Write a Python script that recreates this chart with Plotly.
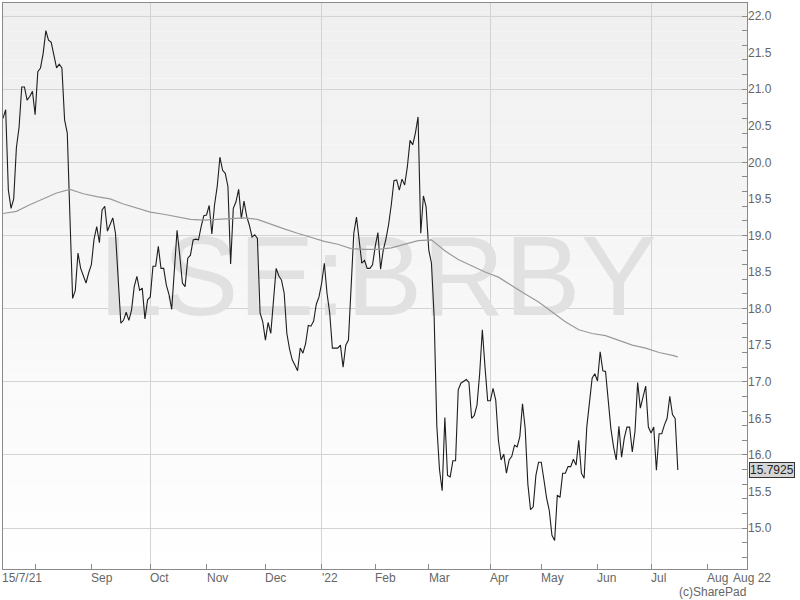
import pandas as pd
import plotly.graph_objects as go

# ---------------- data ----------------
TICKER = "LSE:BRBY"
START_DATE = "2021-07-15"
CAL_END = "2022-08-22"
X_END = "2022-08-19 20:00"
HOLIDAYS = ["2021-08-30", "2021-12-27", "2021-12-28", "2022-01-03",
            "2022-04-15", "2022-04-18", "2022-05-02", "2022-06-02", "2022-06-03"]

# daily closing price (one value per trading day from 15/7/21)
PRICE = [
    20.60, 20.72, 19.62, 19.37, 19.50, 20.20, 20.48, 21.03, 21.03, 20.85,
    20.90, 20.97, 20.65, 21.24, 21.29, 21.49, 21.80, 21.67, 21.64, 21.44,
    21.29, 21.34, 21.29, 20.58, 20.40, 19.25, 18.14, 18.25, 18.76, 18.55,
    18.45, 18.35, 18.49, 18.60, 18.95, 19.12, 18.90, 19.35, 19.40, 19.06,
    19.15, 19.24, 19.03, 18.45, 17.80, 17.84, 17.95, 17.84, 17.98, 18.30,
    18.44, 18.25, 18.28, 17.86, 18.12, 18.16, 18.58, 18.58, 18.85, 18.55,
    18.55, 18.32, 18.19, 17.99, 18.57, 19.07, 18.73, 18.35, 18.30, 18.69,
    18.73, 18.94, 18.95, 18.94, 19.12, 19.27, 19.28, 19.41, 19.02, 19.42,
    19.67, 20.07, 19.89, 19.85, 19.67, 18.61, 19.37, 19.46, 19.63, 19.23,
    19.47, 19.26, 19.14, 18.98, 19.01, 18.96, 17.94, 17.82, 17.57, 17.81,
    17.66, 18.12, 18.55, 18.45, 18.39, 18.21, 17.66, 17.45, 17.30, 17.23,
    17.15, 17.46, 17.39, 17.52, 17.77, 17.76, 17.83, 18.06, 18.16, 18.35,
    18.62, 18.21, 17.94, 17.46, 17.46, 17.46, 17.50, 17.20, 17.50, 17.57,
    18.30, 19.03, 19.25, 18.94, 18.62, 18.66, 18.55, 18.55, 18.60, 18.85,
    19.04, 18.54, 18.80, 18.95, 19.15, 19.42, 19.75, 19.76, 19.62, 19.77,
    19.69, 19.94, 20.30, 20.24, 20.40, 20.62, 19.03, 19.54, 19.39, 18.80,
    18.62, 17.89, 16.40, 15.80, 15.51, 16.51, 15.72, 15.70, 15.92, 15.92,
    16.89, 16.98, 17.01, 17.03, 16.99, 16.50, 16.54, 16.68, 17.11, 17.71,
    17.20, 16.74, 16.74, 16.91, 16.75, 16.20, 15.93, 16.01, 15.75, 15.93,
    15.98, 16.13, 16.11, 16.25, 16.70, 16.36, 15.60, 15.25, 15.29, 15.72,
    15.90, 15.90, 15.66, 15.41, 15.24, 14.90, 14.83, 15.45, 15.42, 15.75,
    15.75, 15.84, 15.84, 15.94, 15.86, 16.20, 15.75, 15.68, 16.38, 16.70,
    17.05, 17.11, 17.01, 17.41, 17.15, 17.14, 16.75, 16.36, 16.11, 15.93,
    16.39, 15.97, 16.23, 16.38, 16.38, 16.04, 16.32, 16.99, 16.64, 16.80,
    16.94, 16.38, 16.30, 16.38, 15.79, 16.29, 16.29, 16.41, 16.50, 16.80,
    16.55, 16.50, 15.7925,
]

# moving average, read every 5th trading day (plus the last day)
MA_STEP = 5
MA = [
    19.30, 19.33, 19.42, 19.50, 19.58, 19.63, 19.57, 19.53, 19.50, 19.43,
    19.37, 19.32, 19.29, 19.25, 19.22, 19.21, 19.22, 19.24, 19.24, 19.22,
    19.15, 19.09, 19.03, 18.97, 18.92, 18.88, 18.82, 18.81, 18.81, 18.83,
    18.88, 18.93, 18.94, 18.79, 18.67, 18.58, 18.50, 18.43, 18.31, 18.20,
    18.09, 17.95, 17.82, 17.71, 17.66, 17.63, 17.57, 17.50, 17.46, 17.40,
    17.36, 17.34,
]

START_LABEL = "15/7/21"
MONTH_LABELS = ["", "Sep", "Oct", "Nov", "Dec", "'22", "Feb", "Mar",
                "Apr", "May", "Jun", "Jul", "Aug"]
END_LABEL = "Aug 22"
CREDIT = "(c)SharePad"
Y_MIN, Y_MAX = 14.44, 22.178
Y_LABELS = [15.0, 15.5, 16.0, 16.5, 17.0, 17.5, 18.0, 18.5, 19.0, 19.5,
            20.0, 20.5, 21.0, 21.5, 22.0]

# ---------------- derived ----------------
cal = pd.bdate_range(START_DATE, CAL_END, freq="C", holidays=HOLIDAYS)
dates = cal[:len(PRICE)]
ma_idx = list(range(0, len(PRICE), MA_STEP)) + [len(PRICE) - 1]
ma_dates = [dates[i] for i in ma_idx][:len(MA)]

s = pd.Series(cal)
firsts = s.groupby(s.dt.to_period("M")).first()
month_starts = list(firsts.iloc[1:])
quarter_starts = [d for d in month_starts if d.month in (1, 4, 7, 10)]

FONT = "Liberation Sans, Arial, sans-serif"
AXIS_C = "#8a8a8a"
GRID_C = "#d3d3d3"
TXT_C = "#666666"

fig = go.Figure()

# watermark (beneath the lines)
fig.add_trace(go.Scatter(
    x=[dates[140]], y=[18.30], mode="text", text=[TICKER],
    textposition="middle center",
    textfont=dict(size=114, color="#e1e1e1", family=FONT),
    hoverinfo="skip", showlegend=False))

fig.add_trace(go.Scatter(
    x=dates, y=PRICE, mode="lines",
    line=dict(color="#1e1e1e", width=1.1), hoverinfo="skip", showlegend=False))

fig.add_trace(go.Scatter(
    x=ma_dates, y=MA, mode="lines", yaxis="y2",
    line=dict(color="#9a9a9a", width=1.2), hoverinfo="skip", showlegend=False))

# background gradient (light grey at top to white at bottom)
N = 60
shapes = []
for k in range(N):
    t = (k + 0.5) / N
    c = int(round(255 - 16 * t))
    shapes.append(dict(type="rect", xref="paper", yref="paper",
                       x0=0, x1=1, y0=k / N, y1=(k + 1) / N,
                       fillcolor=f"rgb({c},{c},{c})", line=dict(width=0),
                       layer="below"))

annotations = []
annotations.append(dict(x=dates[0], xref="x", y=0, yref="paper",
                        text=START_LABEL, showarrow=False, xanchor="left",
                        yanchor="top", xshift=-3, yshift=0,
                        font=dict(size=12, color=TXT_C, family=FONT)))
for d, lab in zip(month_starts, MONTH_LABELS):
    if not lab:
        continue
    annotations.append(dict(x=d, xref="x", y=0, yref="paper", text=lab,
                            showarrow=False, xanchor="left", yanchor="top",
                            xshift=-2, yshift=0,
                            font=dict(size=12, color=TXT_C, family=FONT)))
annotations.append(dict(x=1, xref="paper", y=0, yref="paper", text=END_LABEL,
                        showarrow=False, xanchor="left", yanchor="top",
                        xshift=-16, yshift=0,
                        font=dict(size=12, color=TXT_C, family=FONT)))
annotations.append(dict(x=1, xref="paper", y=0, yref="paper", text=CREDIT,
                        showarrow=False, xanchor="right", yanchor="top",
                        xshift=1, yshift=-14,
                        font=dict(size=12, color=TXT_C, family=FONT)))
annotations.append(dict(x=1, xref="paper", y=PRICE[-1], yref="y2",
                        text=f"{PRICE[-1]:.4f}", showarrow=False,
                        xanchor="left", yanchor="middle", xshift=2,
                        bgcolor="#d6d6d6", bordercolor="#333333",
                        borderwidth=1, borderpad=0,
                        font=dict(size=12, color="#222222", family=FONT)))

fig.update_layout(
    width=800, height=600,
    margin=dict(l=3, r=53, t=3, b=31),
    paper_bgcolor="white", plot_bgcolor="white",
    showlegend=False, hovermode=False,
    font=dict(family=FONT, size=12, color=TXT_C),
    shapes=shapes, annotations=annotations,
    xaxis=dict(
        type="date", range=[dates[0], X_END],
        rangebreaks=[dict(bounds=["sat", "mon"]), dict(values=HOLIDAYS)],
        tickmode="array", tickvals=quarter_starts,
        ticks="inside", ticklen=5, tickcolor=AXIS_C, showticklabels=False,
        showgrid=True, gridcolor=GRID_C, gridwidth=1,
        minor=dict(tickmode="array", tickvals=month_starts, ticks="inside",
                   ticklen=5, tickcolor=AXIS_C, showgrid=False),
        showline=True, linecolor=AXIS_C, linewidth=1, mirror=True,
        zeroline=False, fixedrange=True),
    yaxis=dict(
        side="right", range=[Y_MIN, Y_MAX],
        tickmode="linear", tick0=0, dtick=1,
        ticks="inside", ticklen=5, tickcolor=AXIS_C, showticklabels=False,
        showgrid=True, gridcolor=GRID_C, gridwidth=1,
        minor=dict(tickmode="linear", tick0=0, dtick=0.2, ticks="inside",
                   ticklen=5, tickcolor=AXIS_C, showgrid=False),
        showline=True, linecolor=AXIS_C, linewidth=1, mirror=True,
        zeroline=False, fixedrange=True),
    yaxis2=dict(
        overlaying="y", side="right", range=[Y_MIN, Y_MAX],
        tickmode="array", tickvals=Y_LABELS,
        ticktext=[f"{v:.1f}" for v in Y_LABELS],
        ticks="", showgrid=False, showline=False, zeroline=False,
        tickfont=dict(size=12, color=TXT_C, family=FONT), fixedrange=True),
)

fig.write_html("out.html", config={"displayModeBar": False},
               post_script="document.body.style.margin='0';")
